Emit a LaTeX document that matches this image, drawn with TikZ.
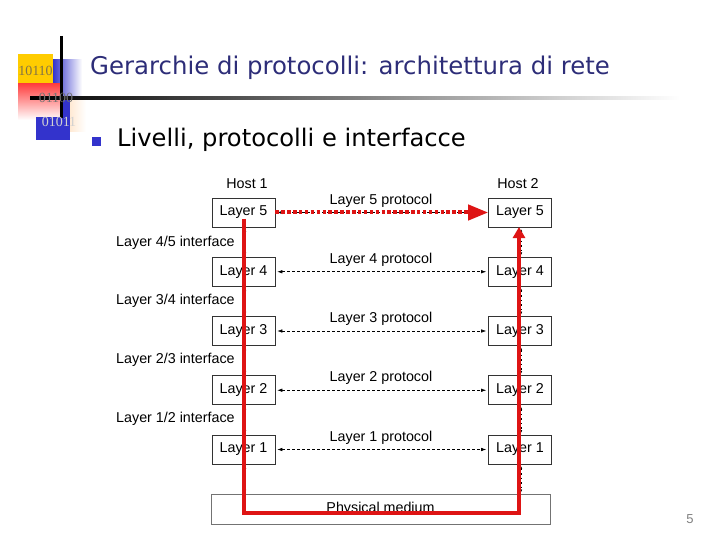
\documentclass[tikz,border=0pt]{standalone}
\usepackage{fontspec}
\setmainfont{Liberation Sans}
\newfontfamily\titlefont{DejaVu Sans}
\newfontfamily\logofont{Liberation Serif}
\usetikzlibrary{arrows.meta}
\definecolor{titleblue}{RGB}{45,45,120}
\definecolor{logoblue}{RGB}{51,51,204}
\definecolor{logoyellow}{RGB}{255,204,0}
\definecolor{redline}{RGB}{222,20,20}
\begin{document}
\begin{tikzpicture}[x=1pt,y=-1pt,
  lbl/.style={inner sep=0pt, font=\fontsize{14.3}{16}\selectfont},
  layerbox/.style={draw=black!80, line width=0.6pt, minimum width=63pt, minimum height=29pt, inner sep=0pt, fill=white, font=\fontsize{14.3}{16}\selectfont},
  protarrow/.style={line width=0.6pt, dash pattern=on 3pt off 2pt, {Latex[length=5pt,width=3.5pt]}-{Latex[length=5pt,width=3.5pt]}, shorten <=2pt, shorten >=2pt},
  vdash/.style={line width=0.4pt, dash pattern=on 1.5pt off 3pt, {Latex[length=2.5pt,width=2pt]}-{Latex[length=2.5pt,width=2pt]}, shorten <=2pt, shorten >=2pt},
  redpath/.style={draw=redline, line width=4pt}
]
\useasboundingbox (0,0) rectangle (720,540);

% logo
\fill[logoyellow] (18,54) rectangle (53,84);
\shade[left color=logoblue, right color=white] (53,60) rectangle (82,98);
\shade[top color=red!75, bottom color=white] (18,84) rectangle (61,120);
\shade[left color=orange!25, right color=white] (62,98) rectangle (86,132);
\fill[logoblue] (61,98) rectangle (70,117);
\fill[logoblue] (36,117) rectangle (70,140);
\draw[line width=3pt] (61,36) -- (61,118);
\shade[left color=black, right color=white] (30,96.5) rectangle (680,99.2);
\node[font=\logofont\fontsize{14}{16}\selectfont, text={rgb,255:red,130;green,115;blue,70}, inner sep=0pt] (b1) at (35.5,71) {10110};
\node[font=\logofont\fontsize{14}{16}\selectfont, text=black!55, inner sep=0pt] (b2) at (56,98) {01100};
\node[font=\logofont\fontsize{14}{16}\selectfont, text=black!18, inner sep=0pt] (b3) at (59,122) {01011};

% titles
\node[anchor=base west, inner sep=0pt, font=\titlefont\fontsize{24.4}{28}\selectfont, text=titleblue] (title) at (90,75) {Gerarchie di protocolli: architettura di rete};
\node[fill=logoblue, minimum size=9pt, inner sep=0pt] (bullet) at (96.5,141.5) {};
\node[anchor=base west, inner sep=0pt, font=\titlefont\fontsize{24.2}{28}\selectfont] (sub) at (117,147) {Livelli, protocolli e interfacce};

% hosts
\node[lbl] (h1) at (247,184) {Host 1};
\node[lbl] (h2) at (518,184) {Host 2};

% layer boxes
\foreach \i/\y in {5/212.5,4/271.75,3/331,2/390.25,1/449.5} {
  \node[layerbox] (L\i) at (243.5,\y) {Layer \i};
  \node[layerbox] (R\i) at (520,\y) {Layer \i};
  \draw[protarrow] (L\i.east) -- (R\i.west);
  \node[lbl, yshift=12pt] (p\i) at (381,\y) {Layer \i\ protocol};
}

% interfaces
\node[lbl, anchor=west] (i45) at (116,242.5) {Layer 4/5 interface};
\node[lbl, anchor=west] (i34) at (116,301) {Layer 3/4 interface};
\node[lbl, anchor=west] (i23) at (116,359.5) {Layer 2/3 interface};
\node[lbl, anchor=west] (i12) at (116,419) {Layer 1/2 interface};

% physical medium
\node[draw=black!55, line width=0.7pt, minimum width=339pt, minimum height=30pt, inner sep=0pt, font=\fontsize{14.3}{16}\selectfont] (phys) at (380.5,509) {\raisebox{-1.5pt}{Physical medium}};

% vertical small dashed arrows
\foreach \a/\b in {5/4,4/3,3/2,2/1} {
  \draw[vdash] ([xshift=1.8pt]L\a.south) -- ([xshift=1.8pt]L\b.north);
  \draw[vdash] ([xshift=1.2pt]R\a.south) -- ([xshift=1.2pt]R\b.north);
}
\coordinate (pl) at (245.3,494);
\coordinate (pr) at (521.2,494);
\draw[vdash] ([xshift=1.8pt]L1.south) -- (pl);
\draw[vdash] ([xshift=1.2pt]R1.south) -- (pr);

% red protocol arrow
\draw[draw=redline, line width=4pt, dash pattern=on 3.5pt off 2.4pt, -{Triangle[length=20pt,width=15pt]}] (L5.east) -- (R5.west);

% red data path
\coordinate (rs) at (243.5,219);
\coordinate (cl) at (243.5,513);
\coordinate (cr) at (519,513);
\coordinate (re) at (519,227);
\draw[redpath, line join=miter, -{Triangle[length=11pt,width=12pt]}] (rs) -- (cl) -- (cr) -- (re);

% page number
\node[text=black!50, font=\fontsize{13}{15}\selectfont, inner sep=0pt] (pg) at (690,519) {5};
\end{tikzpicture}
\end{document}
